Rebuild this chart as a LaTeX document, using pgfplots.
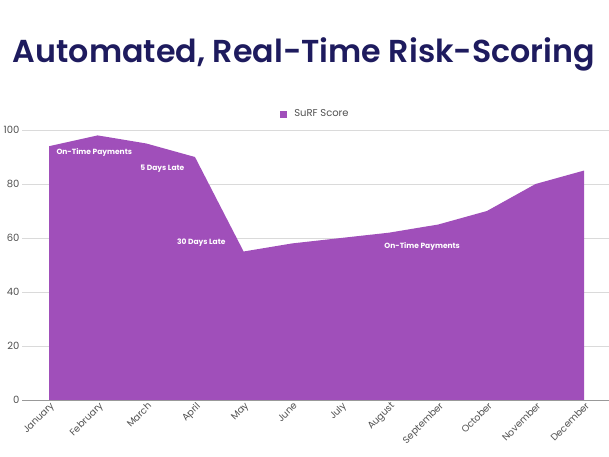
\documentclass[border=0pt]{standalone}
\usepackage{pgfplots}
\pgfplotsset{compat=1.18}
\usepackage{fontspec}
\setmainfont{Poppins}
\newfontfamily\titlefont{Poppins SemiBold}
\definecolor{areac}{RGB}{160,79,186}
\definecolor{titlec}{RGB}{30,27,94}
\definecolor{gridc}{RGB}{218,218,218}
\definecolor{tickc}{RGB}{80,80,80}
\begin{document}
\begin{tikzpicture}[x=1pt,y=1pt]
\path[use as bounding box] (0,0) rectangle (609,456);
\node[text=titlec, anchor=base, inner sep=0pt] at (304,393) {\resizebox{582pt}{!}{\titlefont Automated, Real-Time Risk-Scoring}};
\begin{axis}[
  at={(22pt,56pt)}, anchor=south west,
  scale only axis, width=587pt, height=270pt,
  xmin=-0.555, xmax=11.51, ymin=0, ymax=100,
  axis line style={draw=none},
  tick style={draw=none},
  ymajorgrids, grid style={gridc, line width=0.8pt},
  ytick={0,20,40,60,80,100},
  xtick={0,1,2,3,4,5,6,7,8,9,10,11},
  xticklabels={January,February,March,April,May,June,July,August,September,October,November,December},
  xticklabel style={rotate=45, anchor=north east, font=\fontsize{9.5}{11}\selectfont, text=tickc, inner sep=0.5pt, yshift=-1pt},
  yticklabel style={font=\fontsize{10}{12}\selectfont, text=tickc, xshift=1pt},
  /pgf/number format/assume math mode=true,
  legend style={at={(0.5,1.059)}, anchor=center, draw=none, fill=none, font=\fontsize{10}{12}\selectfont, text=tickc},
  legend image code/.code={\fill[#1] (0pt,-3.5pt) rectangle (7pt,3.5pt); \path (12pt,0pt);},
]
\addplot[fill=areac, draw=none] coordinates {
(0,94) (1,98) (2,95) (3,90) (4,55) (5,58) (6,60) (7,62) (8,65) (9,70) (10,80) (11,85)
} \closedcycle;
\addlegendentry{SuRF Score}
\draw[gray!80, line width=0.8pt] (axis cs:-0.555,0) -- (axis cs:11.51,0);
\node[text=white, font=\fontsize{7.5}{8}\selectfont\bfseries] at (axis cs:0.93,91.5) {On-Time Payments};
\node[text=white, font=\fontsize{7.5}{8}\selectfont\bfseries] at (axis cs:2.33,85.6) {5 Days Late};
\node[text=white, font=\fontsize{7.5}{8}\selectfont\bfseries] at (axis cs:3.13,58.1) {30 Days Late};
\node[text=white, font=\fontsize{7.5}{8}\selectfont\bfseries] at (axis cs:7.67,56.7) {On-Time Payments};
\end{axis}
\end{tikzpicture}
\end{document}
